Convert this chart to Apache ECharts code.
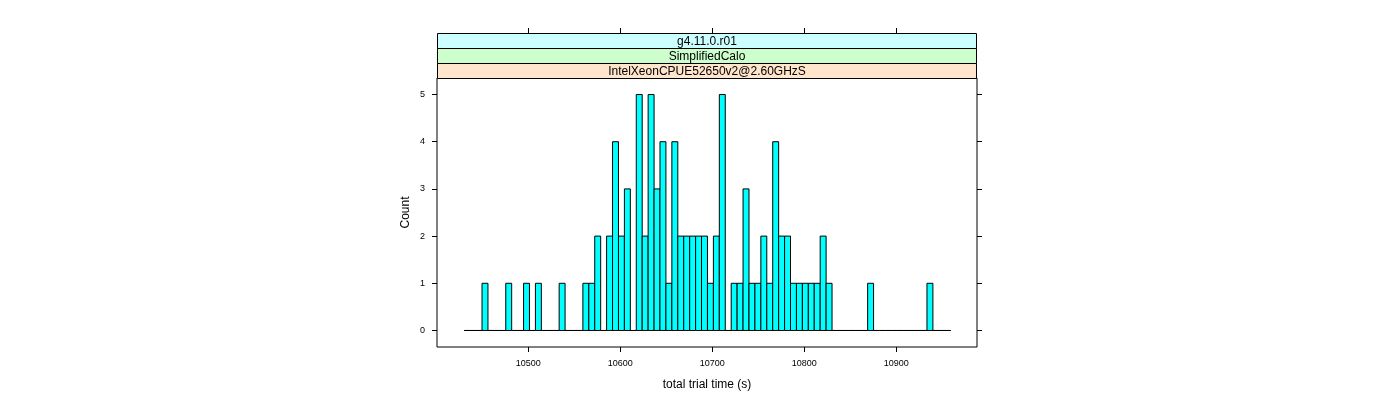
<!DOCTYPE html>
<html>
<head>
<meta charset="utf-8">
<title>total trial time</title>
<script src="https://cdn.jsdelivr.net/npm/echarts@6/dist/echarts.min.js"></script>
<style>
  html, body { margin: 0; padding: 0; background: #fff; }
  #chart { width: 1400px; height: 400px; }
</style>
</head>
<body>
<div id="chart"></div>
<script>
// histogram bins: first break and bin width (s), then counts per bin
var binStart = 10430.4
var binWidth = 6.45
var counts = [
  0, 0, 0, 1, 0, 0, 0, 1, 0, 0,
  1, 0, 1, 0, 0, 0, 1, 0, 0, 0,
  1, 1, 2, 0, 2, 4, 2, 3, 0, 5,
  2, 5, 3, 4, 1, 4, 2, 2, 2, 2,
  2, 1, 2, 5, 0, 1, 1, 3, 1, 1,
  2, 1, 4, 2, 2, 1, 1, 1, 1, 1,
  2, 1, 0, 0, 0, 0, 0, 0, 1, 0,
  0, 0, 0, 0, 0, 0, 0, 0, 1, 0,
  0, 0
]
var xTicks = [10500, 10600, 10700, 10800, 10900]
var yTicks = [0, 1, 2, 3, 4, 5]
var strips = ['g4.11.0.r01', 'SimplifiedCalo', 'IntelXeonCPUE52650v2@2.60GHzS']
var stripColors = ['#ccffff', '#ccffcc', '#ffe5cc']

var xMin = 10400.8
var xMax = 10987.9
var yMin = -0.35
var yMax = 5.35

var font = 'Liberation Sans'

var bars = counts.map(function (c, i) {
  return [binStart + i * binWidth, binStart + (i + 1) * binWidth, c]
})

var chart = echarts.init(document.getElementById('chart'))

// strips above the panel (lattice style)
var stripGraphics = []
strips.forEach(function (s, i) {
  stripGraphics.push({
    type: 'rect',
    shape: { x: 437.5, y: 33.5 + i * 15, width: 539, height: 15 },
    style: { fill: stripColors[i], stroke: '#000', lineWidth: 1 },
    z: 10
  })
  stripGraphics.push({
    type: 'text',
    x: 707,
    y: 42 + i * 15,
    style: {
      text: s,
      font: '12px ' + font,
      fill: '#000',
      align: 'center',
      verticalAlign: 'middle',
      textAlign: 'center',
      textVerticalAlign: 'middle'
    },
    z: 11
  })
})

var option = {
  animation: false,
  backgroundColor: '#fff',
  grid: {
    left: 437,
    right: 423,
    top: 78,
    bottom: 53,
    show: true,
    borderColor: '#000',
    borderWidth: 1,
    backgroundColor: 'transparent'
  },
  graphic: stripGraphics,
  xAxis: [
    {
      type: 'value',
      position: 'bottom',
      min: xMin,
      max: xMax,
      name: 'total trial time (s)',
      nameLocation: 'middle',
      nameGap: 32,
      nameTextStyle: { fontFamily: font, fontSize: 12, color: '#000' },
      axisLine: { show: false, onZero: false },
      axisTick: {
        show: true,
        inside: false,
        length: 5,
        customValues: xTicks,
        lineStyle: { color: '#000' }
      },
      axisLabel: {
        customValues: xTicks,
        margin: 12,
        fontFamily: font,
        fontSize: 9,
        color: '#000',
        formatter: function (v) { return String(v) }
      },
      splitLine: { show: false }
    },
    {
      type: 'value',
      position: 'top',
      offset: 45,
      min: xMin,
      max: xMax,
      axisLine: { show: false, onZero: false },
      axisTick: {
        show: true,
        inside: false,
        length: 5,
        customValues: xTicks,
        lineStyle: { color: '#000' }
      },
      axisLabel: { show: false },
      splitLine: { show: false }
    }
  ],
  yAxis: [
    {
      type: 'value',
      position: 'left',
      min: yMin,
      max: yMax,
      name: 'Count',
      nameLocation: 'middle',
      nameGap: 25,
      nameRotate: 90,
      nameTextStyle: { fontFamily: font, fontSize: 12, color: '#000' },
      axisLine: { show: false, onZero: false },
      axisTick: {
        show: true,
        inside: false,
        length: 5,
        customValues: yTicks,
        lineStyle: { color: '#000' }
      },
      axisLabel: {
        customValues: yTicks,
        margin: 12,
        fontFamily: font,
        fontSize: 9,
        color: '#000'
      },
      splitLine: { show: false }
    },
    {
      type: 'value',
      position: 'right',
      min: yMin,
      max: yMax,
      axisLine: { show: false, onZero: false },
      axisTick: {
        show: true,
        inside: false,
        length: 5,
        customValues: yTicks,
        lineStyle: { color: '#000' }
      },
      axisLabel: { show: false },
      splitLine: { show: false }
    }
  ],
  series: [
    {
      type: 'custom',
      xAxisIndex: 0,
      yAxisIndex: 0,
      encode: { x: [0, 1], y: 2 },
      data: bars,
      renderItem: function (params, api) {
        var p0 = api.coord([api.value(0), api.value(2)])
        var p1 = api.coord([api.value(1), 0])
        return {
          type: 'rect',
          shape: {
            x: p0[0],
            y: p0[1],
            width: p1[0] - p0[0],
            height: p1[1] - p0[1]
          },
          style: { fill: '#00ffff', stroke: '#000', lineWidth: 1 }
        }
      }
    }
  ]
}

chart.setOption(option)
</script>
</body>
</html>
